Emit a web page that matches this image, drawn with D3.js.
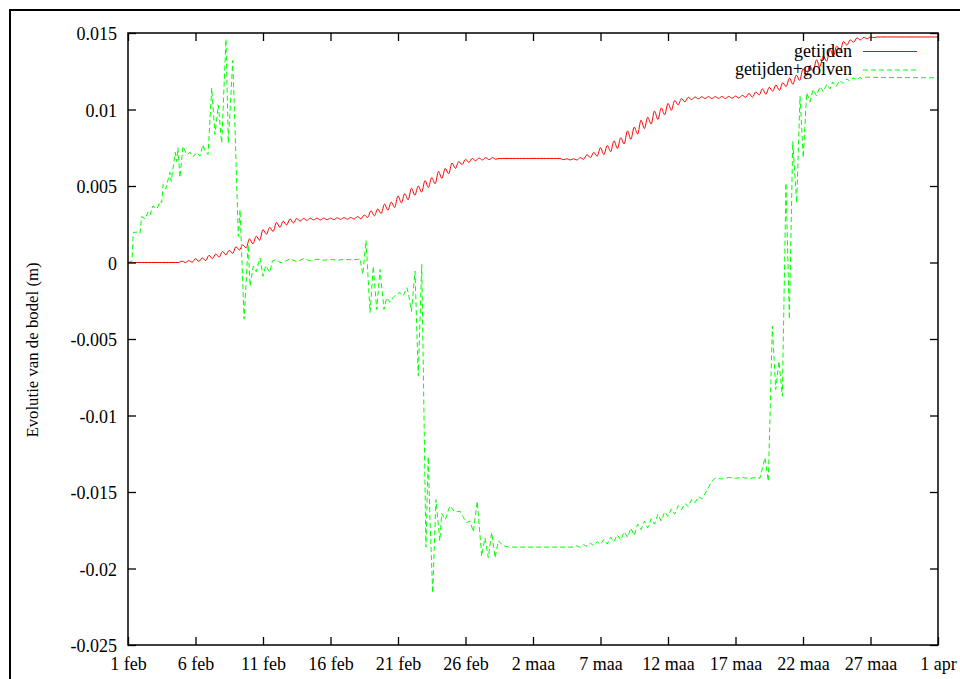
<!DOCTYPE html>
<html>
<head>
<meta charset="utf-8">
<script src="https://cdn.jsdelivr.net/npm/d3@7"></script>
<style>
  body { margin: 0; background: #fff; }
  svg { display: block; }
  text { font-family: "Liberation Serif", "Times New Roman", serif; font-size: 18px; fill: #000; }
</style>
</head>
<body>
<svg width="960" height="679"></svg>
<script>
// x: days since 1 feb 2008 (leap year), y: bed level change
var tickDays = [0, 5, 10, 15, 20, 25, 30, 35, 40, 45, 50, 55, 60];
var tickLabels = ["1 feb", "6 feb", "11 feb", "16 feb", "21 feb", "26 feb", "2 maa",
                  "7 maa", "12 maa", "17 maa", "22 maa", "27 maa", "1 apr"];
var yTicks = [-0.025, -0.02, -0.015, -0.01, -0.005, 0, 0.005, 0.01, 0.015];
var yTickLabels = ["-0.025", "-0.02", "-0.015", "-0.01", "-0.005", "0", "0.005", "0.01", "0.015"];
var seriesNames = ["getijden", "getijden+golven"];
var seriesColors = ["#ff0000", "#00ff00"];

// "getijden": one value (mm) every 6 hours, 1 feb 00h .. 1 apr 00h
var stepDays = 0.25;
var getijdenMm = [
  0,0,0,0, 0,0,0,0, 0,0,0,0, 0,0,0,0,
  0.09,0,0.12,0.02,
  0.25,0.07,0.3,0.12,
  0.47,0.26,0.55,0.35,
  0.72,0.5,0.8,0.6,
  1.03,0.82,1.15,0.95,
  1.55,1.22,1.72,1.45,
  2.15,1.85,2.3,2.02,
  2.62,2.3,2.7,2.45,
  2.85,2.58,2.88,2.7,
  2.88,2.75,2.9,2.78,
  2.9,2.78,2.9,2.8,
  2.9,2.8,2.92,2.82,
  2.93,2.83,2.94,2.84,
  3.0,2.86,3.1,2.95,
  3.38,3.05,3.5,3.2,
  3.82,3.42,3.95,3.6,
  4.35,3.9,4.5,4.1,
  4.85,4.4,5.0,4.6,
  5.35,4.9,5.55,5.15,
  5.95,5.5,6.15,5.8,
  6.5,6.15,6.6,6.4,
  6.75,6.55,6.8,6.65,
  6.83,6.7,6.85,6.72,
  6.85,6.75,6.8,6.8,
  6.8,6.8,6.8,6.8, 6.8,6.8,6.8,6.8, 6.8,6.8,6.8,6.8, 6.8,6.8,6.8,6.8,
  6.8,6.72,6.78,6.7,
  6.78,6.7,6.85,6.75,
  7.05,6.85,7.2,6.95,
  7.5,7.05,7.65,7.25,
  7.95,7.45,8.15,7.75,
  8.6,8.05,8.85,8.4,
  9.3,8.75,9.5,9.05,
  9.9,9.35,10.1,9.65,
  10.4,9.95,10.6,10.3,
  10.72,10.5,10.8,10.65,
  10.82,10.7,10.83,10.72,
  10.84,10.72,10.84,10.73,
  10.85,10.72,10.85,10.74,
  10.88,10.75,10.92,10.8,
  11.05,10.8,11.15,10.95,
  11.35,11.0,11.45,11.2,
  11.6,11.25,11.75,11.5,
  12.05,11.65,12.25,11.9,
  12.65,12.2,12.85,12.5,
  13.25,12.8,13.5,13.15,
  13.95,13.5,14.15,13.85,
  14.45,14.2,14.55,14.4,
  14.68,14.55,14.72,14.62,
  14.74,14.7,14.74,14.74,
  14.74,14.74,14.74,14.74, 14.74,14.74,14.74,14.74,
  14.74,14.74,14.74,14.74, 14.74,14.74,14.74,14.74,
  14.74
];

// "getijden+golven": [day, mm]
var golvenPts = [
  [0,0],[0.3,0.1],[0.39,1.96],[0.74,2.0],[0.89,1.9],[1.01,3.0],[1.26,2.85],[1.48,3.3],[1.63,3.1],
  [1.85,3.7],[2.15,3.5],[2.37,4.0],[2.5,3.9],[2.6,5.1],[2.8,4.8],[3.1,5.9],[3.2,5.3],
  [3.5,7.2],[3.6,6.6],[3.7,7.5],[3.85,5.55],[4.07,7.6],[4.35,7.06],[4.6,7.2],[4.8,6.9],
  [5.1,7.2],[5.33,6.95],[5.55,7.7],[5.7,7.3],[5.93,7.06],[6.2,11.4],[6.44,8.37],[6.69,10.3],
  [6.94,7.8],[7.26,14.6],[7.43,7.8],[7.76,13.2],[7.93,8.7],[8.17,1.7],[8.3,3.46],[8.6,-3.7],
  [8.9,1.18],[9.04,-1.55],[9.28,-0.24],[9.5,-0.6],[9.78,0.3],[10.0,-0.9],[10.2,-0.2],[10.5,-0.65],
  [10.7,0.1],[11.0,0.2],[11.26,0.0],[11.5,0.0],[12,0.25],[12.5,0.05],[13,0.25],[13.5,0.12],
  [14,0.22],[14.5,0.15],[15,0.2],[15.5,0.15],[16,0.2],[16.5,0.18],[17.0,0.2],[17.19,0.25],
  [17.39,-0.78],[17.63,1.44],[17.93,-3.27],[18.17,-0.24],[18.42,-3.07],[18.67,-0.46],[18.96,-3.07],[19.16,-2.3],
  [19.41,-2.6],[19.63,-2.3],[19.85,-2.1],[20.15,-1.96],[20.37,-2.2],[20.67,-1.65],[20.8,-2.2],[21.0,-3.2],
  [21.26,-0.57],[21.5,-7.4],[21.76,-0.13],[22.07,-18.6],[22.24,-12.7],[22.37,-16.8],[22.57,-21.6],[22.81,-15.5],
  [23.1,-18.2],[23.24,-16.4],[23.5,-16.8],[23.85,-15.9],[24.2,-16.3],[24.6,-16.26],[24.8,-16.6],[25.1,-17.0],
  [25.33,-16.9],[25.58,-17.6],[25.87,-15.6],[26.2,-19.2],[26.44,-18.0],[26.69,-19.3],[26.94,-17.65],[27.19,-19.3],
  [27.43,-18.2],[27.8,-18.5],[28.15,-18.6],[32.96,-18.6],
  [33.25,-18.52],[33.5,-18.62],[33.75,-18.45],[34,-18.55],[34.25,-18.35],[34.5,-18.5],[34.75,-18.25],[35,-18.42],
  [35.25,-18.1],[35.5,-18.4],[35.75,-17.95],[36,-18.25],[36.25,-17.8],[36.5,-18.15],[36.75,-17.6],[37,-17.95],
  [37.25,-17.35],[37.5,-17.85],[37.75,-17.1],[38,-17.45],[38.25,-16.9],[38.5,-17.35],[38.75,-16.75],[39,-17.1],
  [39.25,-16.45],[39.5,-16.9],[39.75,-16.3],[40,-16.6],[40.25,-16.1],[40.5,-16.45],[40.75,-15.9],[41,-16.15],
  [41.25,-15.75],[41.5,-15.95],[41.75,-15.5],[42,-15.7],[42.25,-15.3],[42.5,-15.45],[42.75,-15.1],[43,-14.7],
  [43.25,-14.3],[43.5,-14.1],[44,-14.15],[44.5,-14.05],[45,-14.1],[45.5,-14.05],[46,-14.12],[46.5,-14.05],
  [46.81,-14.1],[47.19,-12.75],[47.43,-14.3],[47.73,-4.16],[47.98,-8.3],[48.22,-6.45],[48.47,-8.74],[48.74,5.2],
  [48.99,-3.7],[49.24,7.9],[49.53,3.9],[49.78,10.87],[50.02,6.84],[50.27,11.1],[50.52,10.5],[50.74,11.3],
  [51.0,10.9],[51.26,11.5],[51.5,11.15],[51.76,11.65],[52.0,11.35],[52.2,11.8],[52.44,11.5],[52.74,11.9],
  [52.96,11.7],[53.24,12.0],[53.48,11.85],[53.7,12.07],[53.98,11.95],[54.2,12.1],[54.4,12.0],[54.7,12.12],
  [55.2,12.1],[60,12.07]
];

var svg = d3.select("svg");
var plotLeft = 128, plotRight = 938, plotTop = 33, plotBottom = 645;

var x = d3.scaleLinear().domain([0, 60]).range([plotLeft, plotRight]);
var y = d3.scaleLinear().domain([-0.025, 0.015]).range([plotBottom, plotTop]);

// outer frame
svg.append("rect")
  .attr("x", 10).attr("y", 10).attr("width", 980).attr("height", 700)
  .attr("fill", "none").attr("stroke", "#000").attr("stroke-width", 2);

var red = getijdenMm.map((v, i) => ({ d: i * stepDays, v: v / 1000 }));
var green = golvenPts.map(p => ({ d: p[0], v: p[1] / 1000 }));

var lineSmooth = d3.line().x(p => x(p.d)).y(p => y(p.v)).curve(d3.curveMonotoneX);
var lineStraight = d3.line().x(p => x(p.d)).y(p => y(p.v));

svg.append("path").attr("d", lineSmooth(red))
  .attr("fill", "none").attr("stroke", seriesColors[0]).attr("stroke-width", 1);
svg.append("path").attr("d", lineStraight(green))
  .attr("fill", "none").attr("stroke", seriesColors[1]).attr("stroke-width", 1)
  .attr("stroke-dasharray", "5,3");

// axes (ticks inward on all four sides)
var fmtX = (d, i) => tickLabels[i];
var fmtY = (d, i) => yTickLabels[i];

var gB = svg.append("g").attr("transform", "translate(0," + plotBottom + ")")
  .call(d3.axisBottom(x).tickValues(tickDays).tickFormat(fmtX).tickSizeInner(-8).tickSizeOuter(0));
var gT = svg.append("g").attr("transform", "translate(0," + plotTop + ")")
  .call(d3.axisTop(x).tickValues(tickDays).tickFormat("").tickSizeInner(-8).tickSizeOuter(0));
var gL = svg.append("g").attr("transform", "translate(" + plotLeft + ",0)")
  .call(d3.axisLeft(y).tickValues(yTicks).tickFormat(fmtY).tickSizeInner(-8).tickSizeOuter(0));
var gR = svg.append("g").attr("transform", "translate(" + plotRight + ",0)")
  .call(d3.axisRight(y).tickValues(yTicks).tickFormat("").tickSizeInner(-8).tickSizeOuter(0));

[gB, gT, gL, gR].forEach(g => {
  g.select(".domain").remove();
  g.selectAll("line").attr("stroke", "#000").attr("stroke-width", 1.3);
  g.attr("font-family", null).attr("font-size", null);
});
gB.selectAll("text").attr("dy", null).attr("y", 25);
gL.selectAll("text").attr("dy", null).attr("x", -11).attr("y", 6.5);

svg.append("rect")
  .attr("x", plotLeft).attr("y", plotTop)
  .attr("width", plotRight - plotLeft).attr("height", plotBottom - plotTop)
  .attr("fill", "none").attr("stroke", "#000").attr("stroke-width", 1.5);

svg.append("text")
  .attr("transform", "translate(38,350) rotate(-90)")
  .attr("text-anchor", "middle")
  .style("font-size", "16.8px")
  .text("Evolutie van de bodel (m)");

// legend
var legend = svg.append("g").selectAll("g").data(seriesNames).enter().append("g")
  .attr("transform", (d, i) => "translate(0," + (51.5 + i * 18.5) + ")");
legend.append("text").attr("x", 852).attr("y", 5).attr("text-anchor", "end").text(d => d);
legend.append("line").attr("x1", 863).attr("x2", 917).attr("y1", 0).attr("y2", 0)
  .attr("stroke", d => seriesColors[seriesNames.indexOf(d)]).attr("stroke-width", 1)
  .attr("stroke-dasharray", d => seriesNames.indexOf(d) ? "5,3" : null);
</script>
</body>
</html>
